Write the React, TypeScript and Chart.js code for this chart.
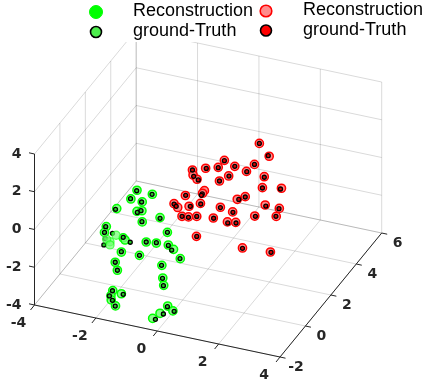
import React, { useEffect, useRef } from "react";
import { Chart, registerables } from "chart.js";

Chart.register(...registerables);

// Ground-truth and reconstructed values. Depth cannot be read from a single view,
// so every series is read on one y plane: green on y = -2, red on y = 2.
const greenDepth = -2;
const redDepth = 2;

const greenTruthX = [-0.67, -0.17, -0.87, -0.51, -1.36, -0.65, -0.53, -0.5, 0.09, -1.68, -1.72, -1.46, -1.69, -1.74, -1.11, -0.88, 0.33, -0.36, -0.03, 0.36, 0.47, -1.17, -0.58, 0.74, 0.14, -1.37, -1.3, 0.17, 0.2, -1.46, -1.11, -1.56, -1.46, -1.37, 0.33, 0.55, 0.2, -0.06];
const greenTruthZ = [3.2, 3.18, 2.71, 2.66, 1.98, 2.06, 2.19, 1.62, 2.0, 0.95, 0.63, 0.67, 0.31, -0.04, 0.58, 0.4, 1.34, 0.59, 0.67, 0.66, 0.45, -0.2, -0.19, 0.09, -0.47, -0.83, -1.23, -1.15, -1.53, -2.37, -2.44, -2.68, -2.88, -3.15, -2.6, -2.77, -3.03, -3.4];
const greenReconX = [-0.66, -0.16, -0.86, -0.49, -1.32, -0.66, -0.5, -0.49, 0.09, -1.66, -1.72, -1.11, -1.05, 0.33, -0.36, -0.03, 0.36, 0.53, -1.17, -0.58, 0.75, 0.15, -1.37, -1.3, 0.18, 0.21, -1.45, -1.17, -1.51, -1.5, -1.36, 0.34, 0.51, 0.09, -0.15];
const greenReconZ = [3.23, 3.19, 2.7, 2.67, 2.03, 2.11, 2.2, 1.61, 2.04, 0.96, 0.63, 0.55, 0.46, 1.34, 0.59, 0.65, 0.68, 0.51, -0.22, -0.19, 0.09, -0.47, -0.83, -1.23, -1.13, -1.51, -2.36, -2.43, -2.65, -2.87, -3.14, -2.56, -2.76, -3.03, -3.38];
// Reconstructions that sit in front of their ground-truth marker in the dense cluster.
const greenNearX = [-1.34, -1.54, -1.65, -1.54];
const greenNearZ = [0.61, 0.2, 0.29, 0.03];

const redTruthX = [1.67, 1.96, 0.53, 0.87, 1.51, -0.06, 0.33, -0.51, 1.26, 0.68, -0.47, 1.83, -0.32, 0.37, 1.77, 2.36, -0.73, -0.19, -0.22, 1.21, 1.0, -0.24, -1.11, -1.04, -0.58, 1.88, 0.4, 2.31, 0.81, -0.85, -0.64, -0.37, 0.18, 1.54, 2.21, 0.64, 0.91, -0.37, 1.12, 2.05];
const redTruthZ = [3.23, 2.68, 1.92, 1.74, 2.06, 1.31, 1.48, 1.07, 1.59, 1.16, 0.75, 1.49, 0.61, 0.79, 0.9, 1.05, -0.35, -0.09, -0.17, 0.23, 0.03, -0.64, -0.94, -1.04, -0.88, -0.02, -0.61, -0.01, -0.72, -1.5, -1.48, -1.34, -1.25, -0.68, -0.45, -1.34, -1.25, -2.4, -2.52, -2.41];
const redReconX = [1.67, 1.99, 0.53, 0.87, 1.51, -0.08, 0.33, -0.51, 1.25, 0.67, -0.49, 1.83, -0.36, 0.37, 1.77, 2.39, -0.74, -0.12, -0.18, 1.21, 0.95, -0.25, -1.11, -0.99, -0.62, 1.86, 0.4, 2.32, 0.8, -0.85, -0.64, -0.37, 0.17, 1.52, 2.22, 0.63, 0.9, -0.38, 1.12, 2.03];
const redReconZ = [3.23, 2.66, 1.94, 1.74, 2.06, 1.31, 1.5, 1.07, 1.6, 1.16, 0.81, 1.52, 0.63, 0.79, 0.92, 1.1, -0.36, 0.11, -0.05, 0.25, 0.02, -0.61, -0.92, -1.08, -0.89, 0.03, -0.59, 0.01, -0.7, -1.5, -1.46, -1.34, -1.24, -0.67, -0.45, -1.29, -1.22, -2.4, -2.5, -2.4];

const xTicks = [-4, -2, 0, 2, 4];
const yTicks = [-2, 0, 2, 4, 6];
const zTicks = [-4, -2, 0, 2, 4];
const seriesLabels = ["Reconstruction", "ground-Truth"];

const WIDTH = 425;
const HEIGHT = 387;
const INK = "#262626";
const GRID = "rgba(0,0,0,0.15)";
const TICK_FONT = 'bold 14px "DejaVu Sans"';
const LEGEND_FONT = '18px "Liberation Sans"';

// Fixed oblique view of the 3-D box onto the canvas.
const project = (x: number, y: number, z: number) => ({
  x: 34.5 + 30.69 * (x + 4) + 12.71 * (y + 2),
  y: 305 + 6.5 * (x + 4) - 15.5 * (y + 2) - 18.875 * (z + 4),
});

const xMin = xTicks[0], xMax = xTicks[xTicks.length - 1];
const yMin = yTicks[0], yMax = yTicks[yTicks.length - 1];
const zMin = zTicks[0], zMax = zTicks[zTicks.length - 1];

const segments = (list: number[][]) => {
  const out: any[] = [];
  list.forEach(([a, b, c, d, e, f]) => {
    out.push(project(a, b, c), project(d, e, f), { x: NaN, y: NaN });
  });
  return out;
};

const floorGrid: number[][] = [
  ...xTicks.map((t) => [t, yMin, zMin, t, yMax, zMin]),
  ...yTicks.map((t) => [xMin, t, zMin, xMax, t, zMin]),
];
const backGrid: number[][] = [
  ...xTicks.map((t) => [t, yMax, zMin, t, yMax, zMax]),
  ...zTicks.map((t) => [xMin, yMax, t, xMax, yMax, t]),
];
const leftGrid: number[][] = [
  ...yTicks.map((t) => [xMin, t, zMin, xMin, t, zMax]),
  ...zTicks.map((t) => [xMin, yMin, t, xMin, yMax, t]),
];

const axisSegments: number[][] = [
  [xMin, yMin, zMin, xMax, yMin, zMin],
  [xMax, yMin, zMin, xMax, yMax, zMin],
  [xMin, yMin, zMin, xMin, yMin, zMax],
];

const tickPoints = () => {
  const out: any[] = [];
  xTicks.forEach((t) => {
    const p = project(t, yMin, zMin);
    out.push(p, { x: p.x - 4, y: p.y + 5 }, { x: NaN, y: NaN });
  });
  yTicks.forEach((t) => {
    const p = project(xMax, t, zMin);
    out.push(p, { x: p.x + 5.5, y: p.y + 1.2 }, { x: NaN, y: NaN });
  });
  zTicks.forEach((t) => {
    const p = project(xMin, yMin, t);
    out.push(p, { x: p.x - 5.5, y: p.y - 1.2 }, { x: NaN, y: NaN });
  });
  return out;
};

const points = (xs: number[], depth: number, zs: number[]) =>
  xs.map((x, i) => project(x, depth, zs[i]));

const legendItems = [
  { cx: 96, cy: 12, r: 6.5, fill: "#00ff00", edge: "#00ff00", lw: 1, tx: 133, ty: 11, text: seriesLabels[0] },
  { cx: 96, cy: 32, r: 5.5, fill: "#4ded4d", edge: "#000000", lw: 1.6, tx: 133, ty: 31, text: seriesLabels[1] },
  { cx: 266, cy: 11, r: 5.8, fill: "#ff8c8c", edge: "#ff0000", lw: 1.6, tx: 303, ty: 10, text: seriesLabels[0] },
  { cx: 266, cy: 30.5, r: 5.5, fill: "#ff0000", edge: "#000000", lw: 1.6, tx: 303, ty: 30, text: seriesLabels[1] },
];

const overlay = {
  id: "overlay",
  afterDraw(chart: any) {
    const ctx = chart.ctx as CanvasRenderingContext2D;
    ctx.save();
    ctx.fillStyle = INK;
    ctx.font = TICK_FONT;
    ctx.textBaseline = "middle";
    ctx.textAlign = "center";
    xTicks.forEach((t) => {
      const p = project(t, yMin, zMin);
      ctx.fillText(String(t), p.x - 16, p.y + 18);
    });
    yTicks.forEach((t) => {
      const p = project(xMax, t, zMin);
      ctx.fillText(String(t), p.x + 16, p.y + 10);
    });
    ctx.textAlign = "right";
    zTicks.forEach((t) => {
      const p = project(xMin, yMin, t);
      ctx.fillText(String(t), p.x - 13, p.y);
    });

    ctx.fillStyle = "#ffffff";
    ctx.fillRect(0, 0, WIDTH, 42);
    ctx.textAlign = "left";
    ctx.font = LEGEND_FONT;
    legendItems.forEach((it) => {
      ctx.beginPath();
      ctx.arc(it.cx, it.cy, it.r, 0, Math.PI * 2);
      ctx.fillStyle = it.fill;
      ctx.fill();
      ctx.lineWidth = it.lw;
      ctx.strokeStyle = it.edge;
      ctx.stroke();
      ctx.fillStyle = "#000000";
      ctx.fillText(it.text, it.tx, it.ty);
    });
    ctx.restore();
  },
};

const lineSet = (label: string, data: any[], color: string, width: number, order: number) => ({
  type: "scatter",
  label,
  data,
  showLine: true,
  spanGaps: false,
  borderColor: color,
  borderWidth: width,
  pointRadius: 0,
  order,
});

const markerSet = (
  label: string,
  data: any[],
  fill: string,
  edge: string,
  radius: number,
  lw: number,
  order: number
) => ({
  type: "scatter",
  label,
  data,
  showLine: false,
  backgroundColor: fill,
  borderColor: edge,
  borderWidth: lw,
  pointRadius: radius,
  order,
});

const GREEN_LIGHT = "rgba(110,255,110,0.8)";
const RED_LIGHT = "rgba(255,120,120,0.85)";

export default function App() {
  const ref = useRef<HTMLCanvasElement | null>(null);
  useEffect(() => {
    if (!ref.current) return;
    const chart = new Chart(ref.current, {
      type: "scatter",
      data: {
        datasets: [
          lineSet("floor grid", segments(floorGrid), GRID, 1, 14),
          lineSet("back grid", segments(backGrid), GRID, 1, 13),
          lineSet("left grid", segments(leftGrid), GRID, 1, 12),
          lineSet("axes", segments(axisSegments), INK, 1, 11),
          lineSet("ticks", tickPoints(), INK, 1, 10),
          markerSet(seriesLabels[0] + " A", points(greenReconX, greenDepth, greenReconZ), GREEN_LIGHT, "#00ff00", 4.1, 1.5, 4),
          markerSet(seriesLabels[1] + " A", points(greenTruthX, greenDepth, greenTruthZ), "#22cc22", "#000000", 2, 1.3, 3),
          markerSet(seriesLabels[0] + " A near", points(greenNearX, greenDepth, greenNearZ), "rgba(110,255,110,0.7)", "rgba(0,255,0,0.6)", 4.1, 1.2, 2.5),
          markerSet(seriesLabels[0] + " B", points(redReconX, redDepth, redReconZ), RED_LIGHT, "#ff0000", 4.1, 1.5, 2),
          markerSet(seriesLabels[1] + " B", points(redTruthX, redDepth, redTruthZ), "#d80000", "#000000", 2, 1.3, 1),
        ] as any,
      },
      options: {
        responsive: false,
        animation: false,
        layout: { padding: 0, autoPadding: false },
        plugins: { legend: { display: false }, tooltip: { enabled: false } },
        scales: {
          x: { type: "linear", min: 0, max: WIDTH, display: false },
          y: { type: "linear", min: 0, max: HEIGHT, reverse: true, display: false },
        },
      },
      plugins: [overlay as any],
    });
    return () => chart.destroy();
  }, []);
  return (
    <div style={{ position: "fixed", left: 0, top: 0, width: WIDTH, height: HEIGHT, background: "#fff" }}>
      <canvas ref={ref} width={WIDTH} height={HEIGHT} style={{ display: "block" }} />
    </div>
  );
}
